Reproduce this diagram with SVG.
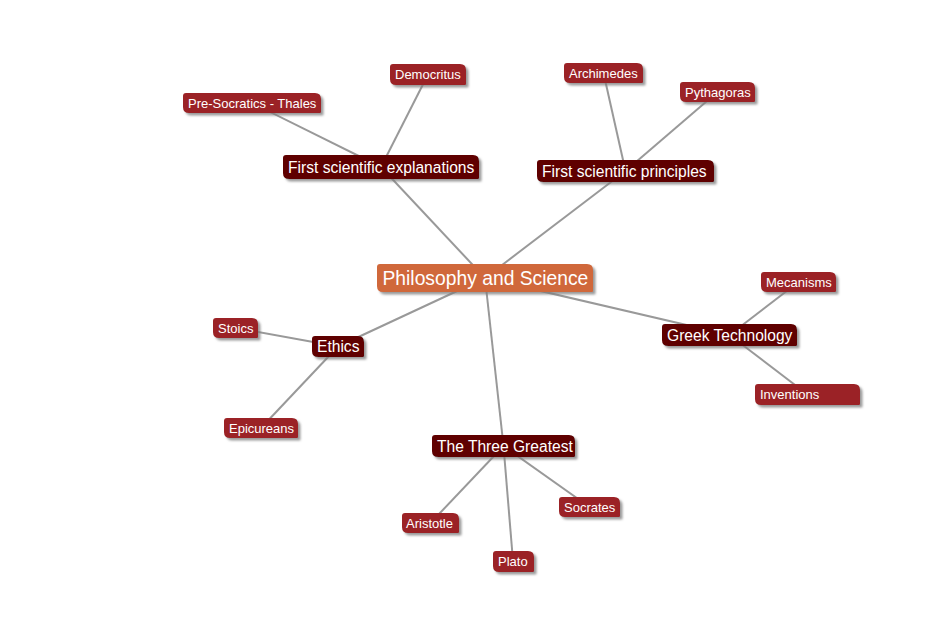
<svg xmlns="http://www.w3.org/2000/svg" width="949" height="620" viewBox="0 0 949 620">
<defs>
<filter id="sh" x="-10%" y="-30%" width="130%" height="180%">
<feDropShadow dx="2.5" dy="2.5" stdDeviation="1.2" flood-color="#7a7a7a" flood-opacity="0.75"/>
</filter>
</defs>
<style>
.edge{stroke:#999999;stroke-width:2;fill:none}
.main{fill:#d0683a;filter:url(#sh)}
.branch{fill:#5e0000;filter:url(#sh)}
.leaf{fill:#9b2226;filter:url(#sh)}
text{font-family:"Liberation Sans",Arial,sans-serif;fill:#ffffff}
.tm{font-size:19.3px}
.tb{font-size:15.6px}
.tl{font-size:13px}
</style>
<rect width="949" height="620" fill="#ffffff"/>
<g id="connectors">
<line class="edge" x1="485" y1="278" x2="381" y2="167"/>
<line class="edge" x1="485" y1="278" x2="625.5" y2="171"/>
<line class="edge" x1="485" y1="278" x2="729.5" y2="335"/>
<line class="edge" x1="485" y1="278" x2="338" y2="346.5"/>
<line class="edge" x1="485" y1="278" x2="503.5" y2="446"/>
<line class="edge" x1="381" y1="167" x2="252" y2="103"/>
<line class="edge" x1="381" y1="167" x2="428" y2="74.5"/>
<line class="edge" x1="625.5" y1="171" x2="603.5" y2="73"/>
<line class="edge" x1="625.5" y1="171" x2="717.5" y2="92"/>
<line class="edge" x1="729.5" y1="335" x2="798.5" y2="282"/>
<line class="edge" x1="729.5" y1="335" x2="807.5" y2="394.5"/>
<line class="edge" x1="338" y1="346.5" x2="235.5" y2="328"/>
<line class="edge" x1="338" y1="346.5" x2="261" y2="428"/>
<line class="edge" x1="503.5" y1="446" x2="430.5" y2="523"/>
<line class="edge" x1="503.5" y1="446" x2="513" y2="561"/>
<line class="edge" x1="503.5" y1="446" x2="589.5" y2="507"/>
</g>
<g id="node-main">
<path class="main" d="M380,264 H587 Q593,264 593,270 V291 Q593,292 592,292 H383 Q377,292 377,286 V267 Q377,264 380,264 Z"/>
<text class="tm" x="382.5" y="284.5">Philosophy and Science</text>
</g>
<g id="node-explanations">
<path class="branch" d="M286,155 H473 Q479,155 479,161 V178 Q479,179 478,179 H289 Q283,179 283,173 V158 Q283,155 286,155 Z"/>
<text class="tb" x="288" y="172.5">First scientific explanations</text>
</g>
<g id="node-principles">
<path class="branch" d="M540,160 H708 Q714,160 714,166 V181 Q714,182 713,182 H543 Q537,182 537,176 V163 Q537,160 540,160 Z"/>
<text class="tb" x="542" y="176.5">First scientific principles</text>
</g>
<g id="node-greek">
<path class="branch" d="M665,324 H791 Q797,324 797,330 V345 Q797,346 796,346 H668 Q662,346 662,340 V327 Q662,324 665,324 Z"/>
<text class="tb" x="667" y="340.5">Greek Technology</text>
</g>
<g id="node-ethics">
<path class="branch" d="M315,336 H358 Q364,336 364,342 V356 Q364,357 363,357 H318 Q312,357 312,351 V339 Q312,336 315,336 Z"/>
<text class="tb" x="317" y="352">Ethics</text>
</g>
<g id="node-three">
<path class="branch" d="M435,435 H569 Q575,435 575,441 V456 Q575,457 574,457 H438 Q432,457 432,451 V438 Q432,435 435,435 Z"/>
<text class="tb" x="437" y="451.5">The Three Greatest</text>
</g>
<g id="node-presocratics">
<path class="leaf" d="M186,93 H315 Q321,93 321,99 V112 Q321,113 320,113 H189 Q183,113 183,107 V96 Q183,93 186,93 Z"/>
<text class="tl" x="188" y="107.7">Pre-Socratics - Thales</text>
</g>
<g id="node-democritus">
<path class="leaf" d="M393,64 H460 Q466,64 466,70 V84 Q466,85 465,85 H396 Q390,85 390,79 V67 Q390,64 393,64 Z"/>
<text class="tl" x="395" y="79.2">Democritus</text>
</g>
<g id="node-archimedes">
<path class="leaf" d="M567,63 H637 Q643,63 643,69 V82 Q643,83 642,83 H570 Q564,83 564,77 V66 Q564,63 567,63 Z"/>
<text class="tl" x="569" y="77.7">Archimedes</text>
</g>
<g id="node-pythagoras">
<path class="leaf" d="M683,82 H749 Q755,82 755,88 V101 Q755,102 754,102 H686 Q680,102 680,96 V85 Q680,82 683,82 Z"/>
<text class="tl" x="685" y="96.7">Pythagoras</text>
</g>
<g id="node-mecanisms">
<path class="leaf" d="M764,272 H830 Q836,272 836,278 V291 Q836,292 835,292 H767 Q761,292 761,286 V275 Q761,272 764,272 Z"/>
<text class="tl" x="766" y="286.7">Mecanisms</text>
</g>
<g id="node-inventions">
<path class="leaf" d="M758,384 H854 Q860,384 860,390 V404 Q860,405 859,405 H761 Q755,405 755,399 V387 Q755,384 758,384 Z"/>
<text class="tl" x="760" y="399.2">Inventions</text>
</g>
<g id="node-stoics">
<path class="leaf" d="M216,318 H252 Q258,318 258,324 V337 Q258,338 257,338 H219 Q213,338 213,332 V321 Q213,318 216,318 Z"/>
<text class="tl" x="218" y="332.7">Stoics</text>
</g>
<g id="node-epicureans">
<path class="leaf" d="M227,418 H292 Q298,418 298,424 V437 Q298,438 297,438 H230 Q224,438 224,432 V421 Q224,418 227,418 Z"/>
<text class="tl" x="229" y="432.7">Epicureans</text>
</g>
<g id="node-aristotle">
<path class="leaf" d="M405,513 H453 Q459,513 459,519 V532 Q459,533 458,533 H408 Q402,533 402,527 V516 Q402,513 405,513 Z"/>
<text class="tl" x="406" y="527.7">Aristotle</text>
</g>
<g id="node-plato">
<path class="leaf" d="M496,551 H528 Q534,551 534,557 V571 Q534,572 533,572 H499 Q493,572 493,566 V554 Q493,551 496,551 Z"/>
<text class="tl" x="498" y="566.2">Plato</text>
</g>
<g id="node-socrates">
<path class="leaf" d="M562,497 H614 Q620,497 620,503 V516 Q620,517 619,517 H565 Q559,517 559,511 V500 Q559,497 562,497 Z"/>
<text class="tl" x="564" y="511.7">Socrates</text>
</g>
</svg>
